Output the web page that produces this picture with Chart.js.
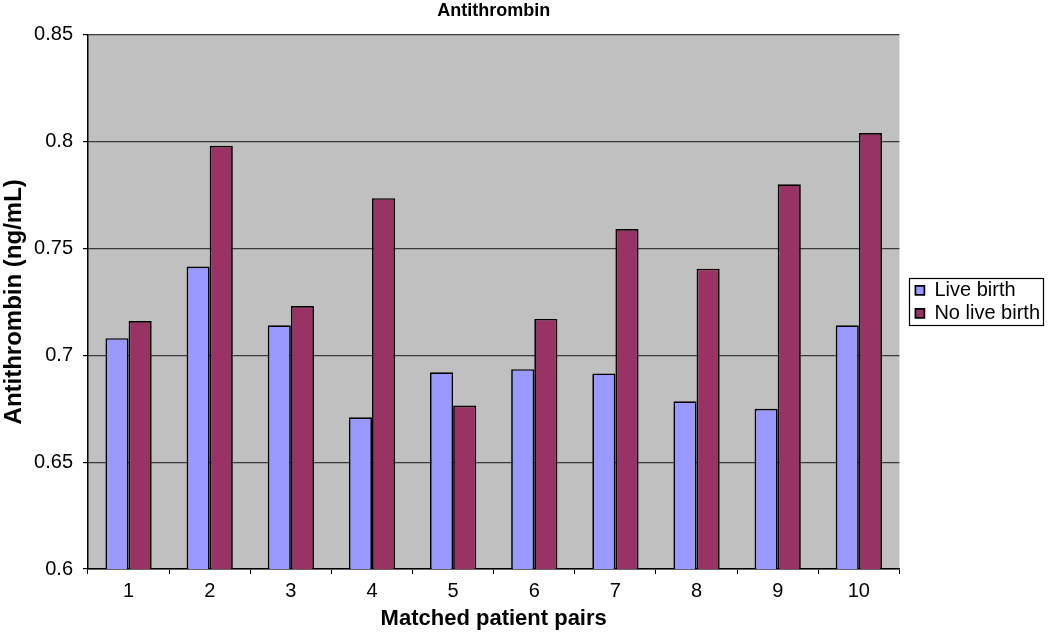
<!DOCTYPE html>
<html>
<head>
<meta charset="utf-8">
<script src="https://cdn.jsdelivr.net/npm/chart.js@4/dist/chart.umd.min.js"></script>
<style>
  body { margin: 0; background: #fff; }
  #wrap { width: 1050px; height: 633px; position: relative; }
</style>
</head>
<body>
<div id="wrap"><canvas id="chart"></canvas></div>
<script>
// Data for the chart
var pairs = ["1", "2", "3", "4", "5", "6", "7", "8", "9", "10"];
var liveBirth = [0.708, 0.7415, 0.714, 0.671, 0.692, 0.6935, 0.6915, 0.6785, 0.675, 0.714];
var noLiveBirth = [0.716, 0.798, 0.723, 0.7735, 0.6765, 0.717, 0.759, 0.7405, 0.780, 0.804];
var yTicks = [0.6, 0.65, 0.7, 0.75, 0.8, 0.85];

var fontFamily = 'Liberation Sans, Arial, sans-serif';

// Grey plot area like the old Excel charts
var plotBackground = {
    id: 'plotBackground',
    beforeDraw: function (chart) {
        var a = chart.chartArea;
        var ctx = chart.ctx;
        ctx.save();
        ctx.fillStyle = '#c0c0c0';
        ctx.fillRect(a.left, a.top, a.right - a.left, a.bottom - a.top);
        ctx.restore();
    }
};

// Frame round the legend
var legendFrame = {
    id: 'legendFrame',
    afterDraw: function (chart) {
        var boxes = chart.legend.legendHitBoxes;
        if (!boxes || !boxes.length) return;
        var first = boxes[0];
        var last = boxes[boxes.length - 1];
        var x0 = first.left - 6;
        var x1 = Math.max.apply(null, boxes.map(function (b) { return b.left + b.width; })) + 3;
        var y0 = first.top + first.height / 2 - 12;
        var y1 = last.top + last.height / 2 + 12;
        var ctx = chart.ctx;
        ctx.save();
        ctx.strokeStyle = '#000';
        ctx.lineWidth = 1.2;
        ctx.strokeRect(Math.round(x0) + 0.5, Math.round(y0) + 0.5, Math.round(x1 - x0), Math.round(y1 - y0));
        ctx.restore();
    }
};

var ctx = document.getElementById('chart').getContext('2d');
var chart = new Chart(ctx, {
    type: 'bar',
    data: {
        labels: pairs,
        datasets: [{
            label: 'Live birth',
            data: liveBirth,
            backgroundColor: '#9999ff',
            borderColor: '#000',
            borderWidth: 1.7,
            yAxisID: 'y'
        }, {
            label: 'No live birth',
            data: noLiveBirth,
            backgroundColor: '#993366',
            borderColor: '#000',
            borderWidth: 1.7,
            yAxisID: 'y'
        }]
    },
    options: {
        responsive: true,
        maintainAspectRatio: false,
        animation: false,
        layout: { padding: 0 },
        datasets: {
            bar: { categoryPercentage: 0.57, barPercentage: 1 }
        },
        plugins: {
            title: {
                display: true,
                fullSize: false,
                text: 'Antithrombin',
                color: '#000',
                font: { family: fontFamily, size: 18, weight: 'bold' },
                padding: { top: 0, bottom: 13 }
            },
            legend: {
                position: 'right',
                fullSize: false,
                labels: {
                    color: '#000',
                    font: { family: fontFamily, size: 20 },
                    boxWidth: 9,
                    boxHeight: 9,
                    padding: 3,
                    useBorderRadius: false
                }
            },
            tooltip: { enabled: false }
        },
        scales: {
            x: {
                afterFit: function (axis) { axis.height = 64; },
                grid: {
                    drawOnChartArea: false,
                    color: '#000',
                    tickLength: 5
                },
                border: { color: '#000', width: 1.5 },
                ticks: {
                    color: '#000',
                    font: { family: fontFamily, size: 20 },
                    padding: 5
                },
                title: {
                    display: true,
                    text: 'Matched patient pairs',
                    color: '#000',
                    font: { family: fontFamily, size: 22, weight: 'bold' },
                    padding: { top: 2, bottom: 1 }
                }
            },
            y: {
                min: yTicks[0],
                max: yTicks[yTicks.length - 1],
                afterBuildTicks: function (axis) {
                    axis.ticks = yTicks.map(function (v) { return { value: v }; });
                },
                afterFit: function (axis) { axis.width = 88; },
                grid: {
                    color: '#3a3a3a',
                    tickColor: '#000',
                    lineWidth: 1.2,
                    tickLength: 5
                },
                border: { color: '#000', width: 1.5 },
                ticks: {
                    color: '#000',
                    font: { family: fontFamily, size: 20 },
                    padding: 10,
                    callback: function (v) { return String(Number(v.toFixed(2))); }
                },
                title: {
                    display: true,
                    text: 'Antithrombin (ng/mL)',
                    color: '#000',
                    font: { family: fontFamily, size: 24, weight: 'bold' },
                    padding: { top: 0, bottom: 0 }
                }
            },
            // empty axis, only a gap between the plot and the legend
            gap: {
                type: 'linear',
                position: 'right',
                display: true,
                grid: { display: false },
                border: { display: false },
                ticks: { display: false },
                afterFit: function (axis) { axis.width = 13; }
            }
        }
    },
    plugins: [plotBackground, legendFrame]
});
</script>
</body>
</html>
